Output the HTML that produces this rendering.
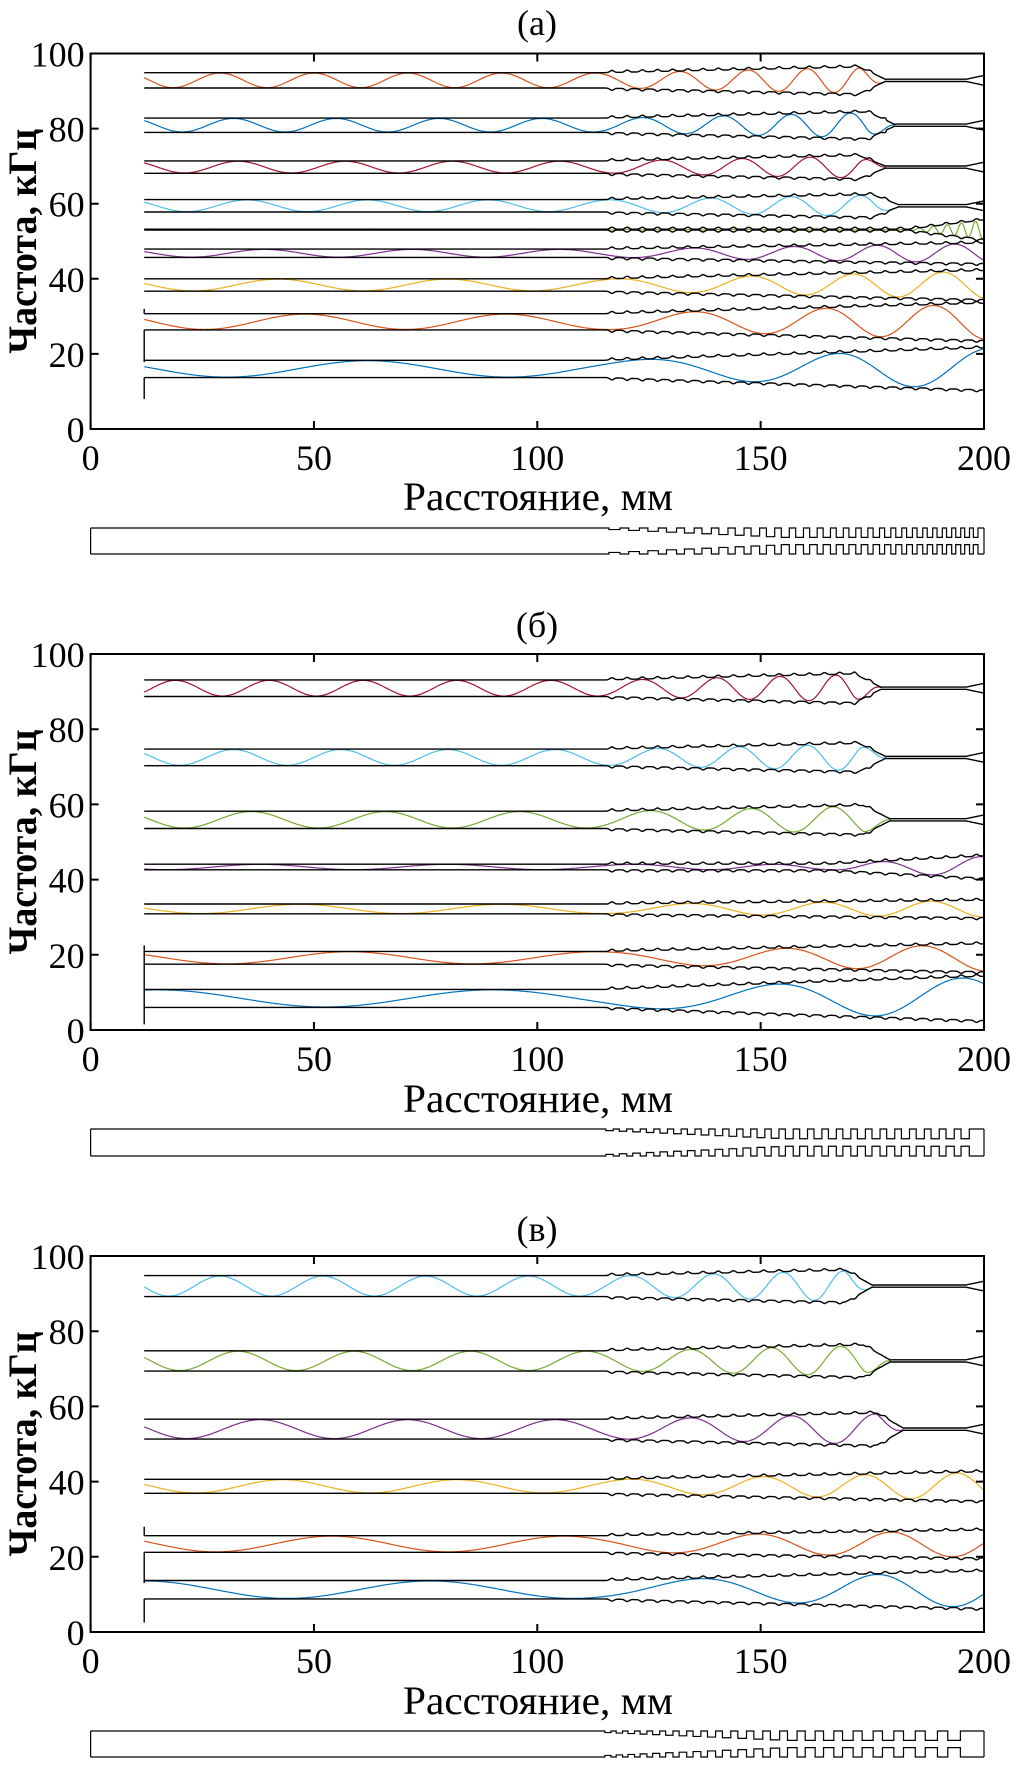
<!DOCTYPE html>
<html><head><meta charset="utf-8"><style>
html,body{margin:0;padding:0;background:#fff;}
svg{display:block;font-family:"Liberation Serif",serif;}
</style></head><body>
<svg id="fig" width="1010" height="1769" viewBox="0 0 1010 1769" xmlns="http://www.w3.org/2000/svg"></svg>
<script>
// ---- data ----
const xTicks = [0, 50, 100, 150, 200];
const yTicks = [0, 20, 40, 60, 80, 100];
const panelTitles = ["(a)", "(б)", "(в)"];
const C = {blue:"#0072BD", orange:"#D95319", yellow:"#EDB120", purple:"#7E2F8E", green:"#77AC30", cyan:"#4DBEEE", red:"#A2142F"};

// panel a
const aLo = [90.8, 79.0, 68.1, 57.8, 53.0, 45.7, 36.7, 26.4, 13.7];
const aHi = [94.9, 82.8, 71.4, 61.1, 53.2, 47.9, 40.0, 30.7, 18.3];
const aPeriod = [21, 23, 24, 27, 6, 33, 38, 45, 63];
const aPeak = [29, 32, 33, 35, 186, 39, 42, 48, 62];
const aGrow = [1.5, 1.6, 1.4, 1.3, 2.5, 1.6, 2.2, 2.8, 3.3];
const aStart = [115, 115, 115, 115, 183, 115, 115, 115, 115];
const aCollapse = [178, 180, 178, 181, 0, 0, 0, 0, 0];
const aColor = [C.orange, C.blue, C.red, C.cyan, C.green, C.purple, C.yellow, C.orange, C.blue];
const aHooks = [[32, 30.7], [26.4, 17.8], [13.7, 8]];

// panel б
const bLo = [88.7, 70.3, 53.6, 42.6, 30.9, 17.5, 6.0];
const bHi = [93.1, 74.7, 58.2, 44.1, 33.5, 20.9, 10.8];
const bPeriod = [21, 24, 30, 42, 45, 55, 75];
const bPeak = [19, 32, 36, 38, 47, 58, 90];
const bGrow = [1.6, 1.5, 1.5, 2.2, 1.0, 2.0, 3.5];
const bStart = [115, 115, 115, 165, 115, 115, 115];
const bCollapse = [177, 178, 179, 0, 0, 0, 0];
const bColor = [C.red, C.cyan, C.green, C.purple, C.yellow, C.orange, C.blue];
const bHooks = [[22.5, 1.5]];

// panel в
const cLo = [89.2, 69.4, 51.3, 36.9, 21.2, 8.8];
const cHi = [94.8, 74.8, 56.6, 40.6, 25.6, 13.7];
const cPeriod = [23, 26, 33, 39, 52, 64];
const cPeak = [29, 33, 38, 43, 54, 76];
const cGrow = [1.4, 1.5, 1.6, 2.0, 1.5, 2.5];
const cStart = [115, 115, 115, 115, 115, 115];
const cCollapse = [175, 179, 182, 0, 0, 0];
const cColor = [C.cyan, C.green, C.purple, C.yellow, C.orange, C.blue];
const cHooks = [[28, 25.6], [21.2, 13], [8.8, 2.5]];

const NS = "http://www.w3.org/2000/svg";
const svg = document.getElementById("fig");
function mk(tag, attrs, parent) {
  const e = document.createElementNS(NS, tag);
  for (const k in attrs) e.setAttribute(k, attrs[k]);
  (parent || svg).appendChild(e);
  return e;
}
const L = 90.6, R = 984;
function X(mm) { return L + mm * (R - L) / 200; }

function drawPanel(idx, top, bot, titleY, tickY, xlabY, stripTop, stripBot, lo, hi, period, peak, grow, start, collapse, colors, hooks, pitch0, pitch1) {
  const g = mk("g", {});
  
  
  const Y = v => bot - v * (bot - top) / 100;

  const t = mk("text", {x: 537, y: titleY + 12, "text-anchor": "middle", "font-size": 36}, g);
  
  
  t.textContent = panelTitles[idx];

  // series
  for (let i = 0; i < lo.length; i++) {
    const mid = (lo[i] + hi[i]) / 2, h0 = (hi[i] - lo[i]) / 2;
    const s = start[i], c = collapse[i];
    const rampEnd = c ? c - 6 : 200;
    function half(x) {
      if (x < s) return h0;
      if (x < rampEnd) return h0 + grow[i] * (x - s) / (rampEnd - s);
      if (c && x < c) return (h0 + grow[i]) * (1 - (x - rampEnd) / (c - rampEnd)) + 0.25 * (x - rampEnd) / (c - rampEnd);
      return c ? 0.25 : h0 + grow[i];
    }
    function ripple(x) {
      if (x < 115 || (c && x > c - 2)) return 0;
      const p = Math.sin(Math.PI * (x - 115) / 3.4);
      return 0.55 * Math.pow(Math.abs(p), 6);
    }
    // colored wave
    let d = "", ph = 0, prev = 12;
    const xEnd = c ? c : 200;
    for (let x = 12; x <= xEnd; x += 0.25) {
      const f = x < 115 ? 1 : 1 + 0.9 * Math.min(1, (x - 115) / 60);
      ph += (x - prev) * f / period[i]; prev = x;
      const phase0 = (peak[i] - 12) / period[i];
      const hw = half(x) * 0.95;
      const v = mid + hw * Math.cos(2 * Math.PI * (ph - phase0));
      d += (d ? "L" : "M") + X(x).toFixed(1) + "," + Y(v).toFixed(1);
    }
    const w = mk("path", {d: d, fill: "none", stroke: colors[i], "stroke-width": 1.2}, g);
    
    
    // envelopes
    let dh = "", dl = "";
    for (let x = 12; x <= 200; x += 0.25) {
      let hh = half(x), r = ripple(x);
      let up = mid + hh + r, dn = mid - hh - r;
      if (c && x > c) { const sp = 0.3 + (x > 196 ? (x - 196) * 0.25 : 0); up = mid + sp; dn = mid - sp; }
      dh += (dh ? "L" : "M") + X(x).toFixed(1) + "," + Y(up).toFixed(1);
      dl += (dl ? "L" : "M") + X(x).toFixed(1) + "," + Y(dn).toFixed(1);
    }
    const eh = mk("path", {d: dh, fill: "none", stroke: "#000", "stroke-width": 1.4}, g);
    
    
    const el = mk("path", {d: dl, fill: "none", stroke: "#000", "stroke-width": 1.4}, g);
    
    
  }
  for (const hk of hooks) {
    const hl = mk("path", {d: "M" + X(12) + "," + Y(hk[0]) + "L" + X(12) + "," + Y(hk[1]), stroke: "#000", "stroke-width": 1.4, fill: "none"}, g);
    
    
  }

  // axes box
  const box = mk("rect", {x: L, y: top, width: R - L, height: bot - top, fill: "none", stroke: "#000", "stroke-width": 2}, g);
  
  
  for (const v of xTicks) {
    const tk = mk("path", {d: `M${X(v)},${bot}v-8M${X(v)},${top}v8`, stroke: "#000", "stroke-width": 2}, g);
    
    
    const tl = mk("text", {x: X(v), y: tickY + 13, "text-anchor": "middle", "font-size": 36}, g);
    
    
    tl.textContent = v;
  }
  for (const v of yTicks) {
    const tk = mk("path", {d: `M${L},${Y(v)}h8M${R},${Y(v)}h-8`, stroke: "#000", "stroke-width": 2}, g);
    
    
    const tl = mk("text", {x: L - 6, y: Y(v) + 13, "text-anchor": "end", "font-size": 36}, g);
    
    
    tl.textContent = v;
  }
  const xl = mk("text", {x: 538, y: xlabY + 14, "text-anchor": "middle", "font-size": 40, textLength: 270, lengthAdjust: "spacingAndGlyphs"}, g);
  
  
  xl.textContent = "Расстояние, мм";
  const cy = (top + bot) / 2;
  const yl = mk("text", {x: 0, y: 0, "text-anchor": "middle", "font-size": 40, "font-weight": "bold", textLength: 225, lengthAdjust: "spacingAndGlyphs", transform: `translate(36,${cy}) rotate(-90)`}, g);
  
  
  yl.textContent = "Частота, кГц";

  // waveguide strip
  const H = stripBot - stripTop;
  let top_d = `M${X(0)},${stripTop}L${X(114)},${stripTop}`;
  let bot_d = `M${X(0)},${stripBot}L${X(114)},${stripBot}`;
  let x = 114;
  while (x < 199) {
    const fr = (x - 114) / 86;
    const p = pitch0 + (pitch1 - pitch0) * fr;
    const dep = H * (0.06 + 0.3 * Math.min(1, fr * 2.2));
    const tw = p * 0.55;
    if (x + p > 200) break;
    top_d += `L${X(x + p - tw)},${stripTop}L${X(x + p - tw)},${stripTop + dep}L${X(x + p)},${stripTop + dep}L${X(x + p)},${stripTop}`;
    bot_d += `L${X(x + p - tw)},${stripBot}L${X(x + p - tw)},${stripBot - dep}L${X(x + p)},${stripBot - dep}L${X(x + p)},${stripBot}`;
    x += p;
  }
  top_d += `L${X(200)},${stripTop}`;
  bot_d += `L${X(200)},${stripBot}`;
  const st = mk("path", {d: top_d + bot_d + `M${X(0)},${stripTop}V${stripBot}M${X(200)},${stripTop}V${stripBot}`, fill: "none", stroke: "#000", "stroke-width": 1.2}, g);
  
  
}

drawPanel(0, 53.5, 429, 23, 457, 496, 528, 554, aLo, aHi, aPeriod, aPeak, aGrow, aStart, aCollapse, aColor, aHooks, 4.5, 1.8);
drawPanel(1, 654, 1030, 625, 1058, 1098, 1129, 1156, bLo, bHi, bPeriod, bPeak, bGrow, bStart, bCollapse, bColor, bHooks, 3, 3.4);
drawPanel(2, 1256, 1632, 1229, 1660, 1700, 1731, 1757, cLo, cHi, cPeriod, cPeak, cGrow, cStart, cCollapse, cColor, cHooks, 2.5, 5.5);
</script>
</body></html>
